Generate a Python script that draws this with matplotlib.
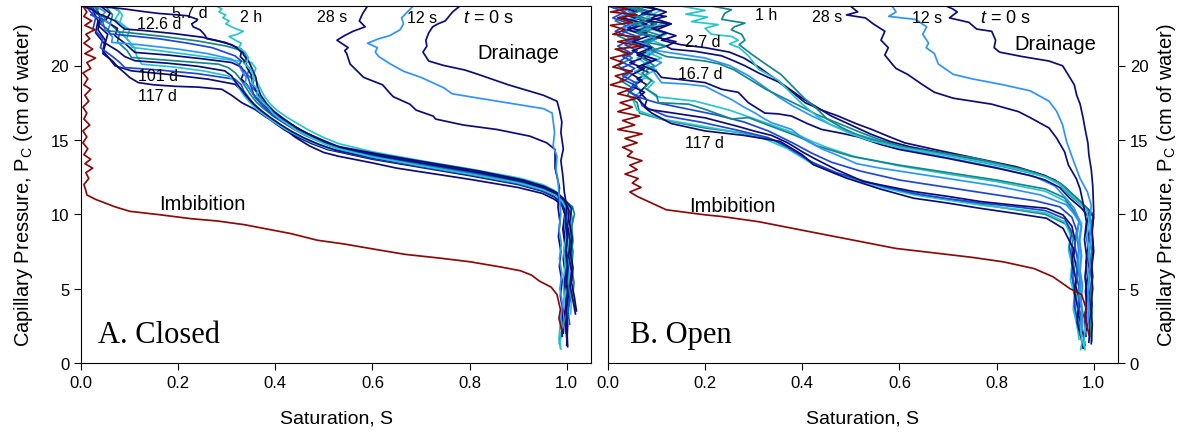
import matplotlib
matplotlib.use('Agg')
import matplotlib.pyplot as plt

plt.rcParams['font.family'] = ['Liberation Sans', 'DejaVu Sans']
plt.rcParams['mathtext.fontset'] = 'custom'
plt.rcParams['mathtext.rm'] = 'Liberation Sans'
plt.rcParams['mathtext.it'] = 'Liberation Sans:italic'
plt.rcParams['mathtext.default'] = 'regular'

NAVY = '#0d0d7a'
BLUE = '#1f48d6'
LBLUE = '#2e93ff'
CYAN = '#28c6cc'
TEAL = '#16878a'
RED = '#8b0b0b'

xticks = [0.0, 0.2, 0.4, 0.6, 0.8, 1.0]
xticklabels = ['0.0', '0.2', '0.4', '0.6', '0.8', '1.0']
yticks = [0, 5, 10, 15, 20]

# ---------------- A. Closed : (S, Pc) pairs ----------------
a_imb = [(0.004,24.0),(0.012,23.6),(0.006,23.3),(0.022,23.0),(0.008,22.7),(0.028,22.4),(0.01,22.1),
         (0.018,21.8),(0.006,21.5),(0.024,21.1),(0.008,20.8),(0.03,20.5),(0.012,20.2),(0.02,19.8),
         (0.004,19.5),(0.014,19.1),(0.006,18.7),(0.02,18.4),(0.008,18.0),(0.016,17.6),(0.004,17.2),
         (0.012,16.8),(0.006,16.4),(0.018,16.0),(0.004,15.6),(0.012,15.2),(0.004,14.8),(0.014,14.4),
         (0.006,14.0),(0.02,13.7),(0.008,13.4),(0.024,13.1),(0.01,12.8),(0.016,12.4),(0.006,12.0),
         (0.01,11.6),(0.012,11.3),(0.03,11.0),(0.046,10.8),(0.07,10.5),(0.1,10.2),(0.164,9.96),
         (0.227,9.7),(0.28,9.55),(0.336,9.3),(0.432,8.7),(0.487,8.25),(0.542,8.0),(0.604,7.65),
         (0.668,7.3),(0.739,7.05),(0.802,6.8),(0.865,6.45),(0.905,6.2),(0.928,5.9),(0.944,5.5),
         (0.968,5.1),(0.98,4.6),(0.987,3.6),(0.984,3.0),(0.99,2.2)]

a_t0 = [(0.78,24.0),(0.765,23.6),(0.75,23.0),(0.735,22.8),(0.724,22.6),(0.716,22.2),(0.71,21.7),
        (0.712,21.3),(0.704,20.9),(0.716,20.3),(0.747,20.0),(0.79,19.7),(0.818,19.4),(0.88,18.7),
        (0.952,18.0),(0.98,17.6),(0.985,17.0),(0.99,16.2),(0.988,15.5),(0.993,14.4),(0.988,13.6),
        (0.992,12.6),(0.995,11.5),(1.0,10.5),(0.997,9.5),(1.001,8.5),(0.998,7.5),(1.002,6.5),
        (0.999,5.5),(1.003,4.5),(0.999,3.5),(1.002,2.5),(1.0,1.2)]
a_12s = [(0.684,24.0),(0.672,23.6),(0.66,23.2),(0.664,22.8),(0.657,22.4),(0.635,22.0),(0.613,21.8),
         (0.59,21.5),(0.61,21.2),(0.606,20.9),(0.613,20.6),(0.637,20.1),(0.665,19.6),(0.70,19.2),
         (0.747,18.5),(0.764,18.1),(0.81,17.85),(0.857,17.6),(0.952,17.1),(0.97,16.8),(0.975,15.5),
         (0.972,14.6),(0.98,13.9),(0.978,13.0),(0.982,12.3),(0.985,11.0),(0.988,10.0),(0.984,9.0),
         (0.989,8.0),(0.985,7.0),(0.99,6.0),(0.986,5.0),(0.991,4.0),(0.988,3.0),(0.99,2.4)]
a_28s = [(0.59,24.0),(0.58,23.5),(0.573,23.0),(0.585,22.6),(0.56,22.3),(0.542,22.0),(0.527,21.7),
         (0.55,21.2),(0.543,21.0),(0.547,20.8),(0.554,20.1),(0.582,19.2),(0.621,18.7),(0.637,18.1),
         (0.643,17.9),(0.677,17.4),(0.69,17.0),(0.725,16.6),(0.73,16.4),(0.787,16.0),(0.856,15.7),
         (0.924,15.25),(0.959,14.8),(0.976,14.35),(0.976,13.1),(0.985,11.8),(0.982,10.5),(0.986,9.5),
         (0.983,8.5),(0.988,7.5),(0.985,6.5),(0.99,5.5),(0.987,4.5),(0.992,3.5),(0.989,2.5),(0.991,1.8)]

a_2h = [(0.279,24.0),(0.29,23.8),(0.284,23.6),(0.298,23.4),(0.292,23.2),(0.305,23.0),(0.298,22.8),
        (0.31,22.6),(0.32,22.45),(0.334,22.3),(0.322,22.1),(0.305,21.95),(0.318,21.7),(0.33,21.5),
        (0.325,21.2),(0.338,20.9),(0.345,20.5),(0.338,20.1),(0.35,19.7),(0.356,19.2),(0.352,18.8),
        (0.364,18.4),(0.362,18.0),(0.372,17.6),(0.385,17.2),(0.395,16.8),(0.41,16.4),(0.428,16.0),
        (0.445,15.6),(0.47,15.2),(0.50,14.75),(0.53,14.4),(0.6,13.85),(0.7,13.25),(0.8,12.7),
        (0.9,12.1),(0.95,11.65),(0.975,11.3),(0.99,10.9),(1.0,10.3),(0.996,9.5),(0.999,8.5),
        (0.994,7.5),(0.997,6.5),(0.992,5.5),(0.995,4.5),(0.99,3.5),(0.992,2.5),(0.986,1.4),(0.988,0.95)]
a_5_7d = [(0.03,24.0),(0.06,23.9),(0.09,23.8),(0.112,23.7),(0.135,23.6),(0.16,23.5),(0.18,23.45),
          (0.2,23.4),(0.218,23.35),(0.24,23.1),(0.238,23.0),(0.228,22.8),(0.231,22.6),(0.245,22.4),
          (0.251,22.2),(0.256,22.0),(0.259,21.8),(0.275,21.7),(0.293,21.55),(0.31,21.4),(0.32,21.2),
          (0.33,20.9),(0.328,20.6),(0.34,20.2),(0.341,19.9),(0.35,19.4),(0.354,18.7),(0.362,18.2),
          (0.366,17.8),(0.38,17.3),(0.392,16.9),(0.41,16.5),(0.43,16.1),(0.45,15.7),(0.48,15.2),
          (0.51,14.75),(0.54,14.45),(0.62,13.9),(0.72,13.35),(0.82,12.8),(0.91,12.2),(0.955,11.75),
          (0.98,11.35),(0.995,10.9),(1.005,10.2),(1.002,9.2),(1.007,8.2),(1.004,7.2),(1.01,6.2),
          (1.007,5.2),(1.013,4.2),(1.018,3.3)]
a_12_6d = [(0.0,24.0),(0.02,23.8),(0.035,23.5),(0.05,23.3),(0.07,23.0),(0.08,22.7),(0.09,22.45),
           (0.13,22.35),(0.19,22.15),(0.25,21.9),(0.297,21.55),(0.315,21.3),(0.33,21.1),(0.335,20.7),
           (0.345,20.3),(0.352,19.8),(0.36,19.2),(0.363,18.6),(0.37,18.0),(0.383,17.4),(0.398,16.9),
           (0.418,16.4),(0.44,15.9),(0.465,15.45),(0.5,14.95),(0.53,14.55),(0.62,14.0),(0.72,13.45),
           (0.82,12.9),(0.91,12.3),(0.955,11.85),(0.98,11.45),(0.995,11.0),(1.01,10.4),(1.006,9.4),
           (1.011,8.4),(1.008,7.4),(1.013,6.4),(1.01,5.4),(1.016,4.4),(1.02,3.5)]
a_c4 = [(0.01,24.0),(0.03,23.7),(0.02,23.4),(0.045,23.1),(0.04,22.8),(0.056,22.4),(0.06,22.12),
        (0.1,22.0),(0.16,21.8),(0.22,21.5),(0.27,21.2),(0.317,20.65),(0.33,20.3),(0.325,20.0),
        (0.338,19.6),(0.345,19.1),(0.35,18.6),(0.355,18.1),(0.366,17.6),(0.38,17.1),(0.396,16.6),
        (0.415,16.2),(0.437,15.75),(0.462,15.3),(0.495,14.85),(0.525,14.45),(0.6,13.95),(0.7,13.4),
        (0.8,12.85),(0.9,12.25),(0.95,11.8),(0.975,11.4),(0.99,10.95),(1.0,10.3),(0.997,9.3),
        (1.001,8.3),(0.998,7.3),(1.003,6.3),(1.0,5.3),(1.006,4.3),(1.003,3.4),(1.006,2.6)]
a_c5 = [(0.02,24.0),(0.035,23.8),(0.03,23.5),(0.05,23.2),(0.045,22.9),(0.05,22.34),(0.1,22.2),
        (0.17,21.95),(0.24,21.65),(0.3,21.3),(0.331,21.0),(0.342,20.6),(0.335,20.2),(0.348,19.8),
        (0.342,19.4),(0.356,19.0),(0.35,18.6),(0.362,18.2),(0.372,17.7),(0.385,17.25),(0.4,16.8),
        (0.42,16.35),(0.44,15.9),(0.462,15.45),(0.49,15.0),(0.52,14.6),(0.6,14.05),(0.7,13.5),
        (0.8,12.95),(0.9,12.35),(0.95,11.9),(0.975,11.5),(0.992,11.05),(1.012,10.5),(1.016,10.0),
        (1.01,9.2),(1.013,8.2),(1.008,7.2),(1.011,6.2),(1.005,5.2),(1.007,4.2),(0.998,3.2),
        (0.99,2.2),(0.985,1.3)]
a_c6 = [(0.03,24.0),(0.05,23.6),(0.04,23.2),(0.06,22.8),(0.055,22.3),(0.065,21.9),(0.063,21.55),
        (0.12,21.4),(0.2,21.1),(0.26,20.8),(0.31,20.43),(0.325,20.1),(0.33,19.7),(0.34,19.2),
        (0.338,18.8),(0.348,18.4),(0.358,17.9),(0.372,17.4),(0.39,16.9),(0.41,16.45),(0.432,16.0),
        (0.455,15.55),(0.485,15.05),(0.515,14.6),(0.6,14.0),(0.7,13.45),(0.8,12.9),(0.9,12.3),
        (0.95,11.85),(0.975,11.45),(0.99,11.0),(1.0,10.4),(0.996,9.4),(1.0,8.4),(0.997,7.4),
        (1.002,6.4),(0.999,5.4),(1.004,4.4),(1.0,3.1)]
a_c7 = [(0.06,24.0),(0.08,23.6),(0.07,23.1),(0.09,22.6),(0.085,22.1),(0.1,21.6),(0.104,21.22),
        (0.16,21.0),(0.23,20.7),(0.3,20.4),(0.351,20.2),(0.36,19.8),(0.355,19.4),(0.362,18.9),
        (0.37,18.4),(0.378,17.9),(0.39,17.4),(0.405,16.95),(0.425,16.5),(0.448,16.05),(0.472,15.6),
        (0.5,15.15),(0.53,14.75),(0.6,14.2),(0.7,13.6),(0.8,13.05),(0.9,12.45),(0.95,12.0),
        (0.975,11.6),(0.99,11.15),(1.006,10.6),(1.01,9.8),(1.005,8.8),(1.008,7.8),(1.002,6.8),
        (1.005,5.8),(0.998,4.8),(0.992,3.6),(0.986,2.4),(0.984,1.6),(0.987,1.0)]
a_c8 = [(0.04,24.0),(0.06,23.5),(0.05,23.0),(0.075,22.5),(0.07,22.0),(0.09,21.5),(0.111,20.88),
        (0.18,20.7),(0.25,20.45),(0.31,20.2),(0.33,19.9),(0.335,19.5),(0.33,19.1),(0.342,18.7),
        (0.35,18.3),(0.36,17.8),(0.375,17.3),(0.39,16.85),(0.41,16.4),(0.432,15.95),(0.456,15.5),
        (0.485,15.05),(0.515,14.6),(0.6,14.05),(0.7,13.5),(0.8,12.95),(0.9,12.35),(0.95,11.9),
        (0.975,11.5),(0.99,11.05),(1.002,10.5),(0.998,9.6),(1.002,8.6),(0.999,7.6),(1.003,6.6),
        (1.0,5.6),(1.004,4.6),(1.001,3.6),(1.0,2.5),(1.002,1.1)]
a_c9 = [(0.05,24.0),(0.065,23.4),(0.06,22.8),(0.08,22.2),(0.075,21.6),(0.095,21.0),(0.104,20.54),
        (0.16,20.4),(0.22,20.25),(0.283,20.09),(0.303,19.86),(0.318,19.5),(0.33,19.0),(0.34,18.5),
        (0.35,18.0),(0.362,17.5),(0.378,17.05),(0.396,16.6),(0.418,16.15),(0.44,15.7),(0.468,15.25),
        (0.5,14.8),(0.535,14.35),(0.6,13.85),(0.7,13.3),(0.8,12.75),(0.9,12.15),(0.95,11.7),
        (0.975,11.3),(0.99,10.85),(1.008,10.3),(1.012,9.5),(1.008,8.5),(1.013,7.5),(1.01,6.4),
        (1.015,5.4),(1.012,4.4),(1.018,3.6)]
a_c10 = [(0.02,24.0),(0.04,23.3),(0.035,22.7),(0.055,22.1),(0.05,21.5),(0.075,21.0),(0.09,20.6),
         (0.111,20.32),(0.18,20.15),(0.24,19.95),(0.296,19.64),(0.31,19.3),(0.318,18.9),(0.33,18.4),
         (0.342,17.9),(0.356,17.4),(0.372,16.95),(0.39,16.5),(0.41,16.05),(0.432,15.6),(0.458,15.15),
         (0.49,14.7),(0.525,14.3),(0.6,13.8),(0.7,13.25),(0.8,12.7),(0.9,12.1),(0.95,11.65),
         (0.975,11.25),(0.99,10.8),(0.998,10.2),(0.994,9.2),(0.998,8.2),(0.995,7.2),(0.999,6.2),
         (0.996,5.2),(1.0,4.2),(0.997,3.2),(0.999,2.0)]
a_c11 = [(0.07,24.0),(0.085,23.4),(0.08,22.9),(0.1,22.4),(0.094,21.8),(0.11,21.2),(0.115,20.6),
         (0.125,20.09),(0.19,19.9),(0.25,19.65),(0.303,19.3),(0.318,18.9),(0.325,18.5),(0.335,18.0),
         (0.348,17.5),(0.362,17.05),(0.38,16.6),(0.4,16.15),(0.422,15.7),(0.448,15.25),(0.478,14.8),
         (0.51,14.4),(0.6,13.9),(0.7,13.35),(0.8,12.8),(0.9,12.2),(0.95,11.75),(0.975,11.35),
         (0.99,10.9),(1.004,10.3),(1.0,9.3),(1.005,8.3),(1.002,7.3),(1.007,6.3),(1.004,5.3),
         (1.01,4.3),(1.008,3.3)]
a_c12 = [(0.01,24.0),(0.03,23.2),(0.025,22.5),(0.045,21.8),(0.04,21.2),(0.065,20.6),(0.08,20.2),
         (0.09,19.86),(0.16,19.7),(0.24,19.45),(0.317,19.08),(0.33,18.7),(0.335,18.3),(0.345,17.85),
         (0.356,17.4),(0.37,16.95),(0.386,16.5),(0.405,16.05),(0.428,15.6),(0.454,15.15),(0.485,14.7),
         (0.52,14.3),(0.6,13.75),(0.7,13.2),(0.8,12.65),(0.9,12.05),(0.95,11.6),(0.975,11.2),
         (0.99,10.75),(1.0,10.1),(0.996,9.1),(1.0,8.1),(0.997,7.1),(1.002,6.1),(0.999,5.1),
         (1.004,4.1),(1.001,3.2)]
a_101d = [(0.03,24.0),(0.04,23.2),(0.035,22.4),(0.05,21.7),(0.045,21.0),(0.06,20.4),(0.07,19.98),
          (0.104,19.64),(0.18,19.4),(0.262,19.08),(0.317,18.74),(0.33,18.35),(0.34,17.9),(0.352,17.45),
          (0.366,17.0),(0.382,16.55),(0.4,16.1),(0.42,15.65),(0.445,15.2),(0.475,14.75),(0.508,14.35),
          (0.6,13.7),(0.7,13.15),(0.8,12.6),(0.9,12.0),(0.95,11.55),(0.975,11.15),(0.99,10.7),
          (0.996,10.0),(0.992,9.0),(0.996,8.0),(0.993,7.0),(0.997,6.0),(0.994,5.0),(0.998,4.0),
          (0.995,3.0),(0.993,2.0)]
a_117d = [(0.02,24.0),(0.035,23.0),(0.03,22.2),(0.05,21.4),(0.045,20.8),(0.065,20.3),(0.077,19.86),
          (0.09,19.5),(0.1,19.2),(0.118,18.85),(0.15,18.7),(0.194,18.6),(0.24,18.55),(0.29,18.4),
          (0.31,18.0),(0.331,17.5),(0.358,17.05),(0.38,16.55),(0.41,16.0),(0.44,15.2),(0.47,14.6),
          (0.5,14.15),(0.53,13.9),(0.6,13.45),(0.65,13.1),(0.7,12.85),(0.8,12.35),(0.9,11.8),
          (0.95,11.4),(0.975,11.0),(0.99,10.6),(0.998,9.9),(0.994,8.9),(0.998,7.9),(0.995,6.9),
          (0.999,5.9),(0.996,4.9),(1.0,3.9),(0.998,2.6),(1.001,1.2)]

# ---------------- B. Open ----------------
b_imb = [(0.01,24.0),(0.04,23.8),(0.005,23.6),(0.06,23.4),(0.02,23.2),(0.05,22.9),(0.005,22.7),
         (0.035,22.4),(0.01,22.1),(0.065,21.9),(0.02,21.6),(0.07,21.3),(0.015,21.1),(0.045,20.8),
         (0.005,20.5),(0.03,20.2),(0.01,19.9),(0.05,19.6),(0.015,19.3),(0.035,19.0),(0.005,18.7),
         (0.045,18.4),(0.02,18.1),(0.06,17.8),(0.025,17.5),(0.05,17.2),(0.02,16.9),(0.065,16.6),
         (0.03,16.3),(0.055,16.0),(0.02,15.7),(0.07,15.4),(0.035,15.1),(0.06,14.8),(0.03,14.5),
         (0.05,14.2),(0.04,13.9),(0.07,13.6),(0.045,13.3),(0.06,13.0),(0.035,12.7),(0.062,12.4),
         (0.05,12.1),(0.068,11.8),(0.045,11.5),(0.06,11.2),(0.08,10.9),(0.1,10.6),(0.12,10.3),
         (0.2,9.96),(0.234,9.85),(0.31,9.5),(0.404,8.9),(0.467,8.5),(0.53,8.1),(0.593,7.7),
         (0.672,7.4),(0.75,7.1),(0.814,6.8),(0.877,6.35),(0.916,5.8),(0.951,5.0),(0.975,4.6),
         (0.985,3.6),(0.98,3.2),(0.986,2.6),(0.99,1.9)]

b_t0 = [(0.696,24.0),(0.71,23.8),(0.719,23.6),(0.703,23.2),(0.743,22.9),(0.759,22.45),(0.79,22.3),
        (0.798,21.7),(0.795,21.2),(0.806,20.9),(0.853,20.6),(0.908,20.3),(0.936,19.98),(0.947,19.4),
        (0.96,18.7),(0.965,18.0),(0.972,17.4),(0.978,16.5),(0.983,15.6),(0.988,14.8),(0.99,14.0),
        (0.995,13.0),(0.998,11.9),(1.0,10.2),(0.997,8.8),(1.0,7.5),(0.995,6.2),(0.998,5.0),
        (0.994,3.8),(0.997,2.6),(0.995,1.3)]
b_12s = [(0.585,24.0),(0.593,23.6),(0.578,23.3),(0.633,23.1),(0.656,22.6),(0.648,22.1),(0.66,21.5),
         (0.655,21.2),(0.672,20.8),(0.68,20.1),(0.711,19.4),(0.75,19.1),(0.814,18.7),(0.869,18.3),
         (0.908,17.6),(0.924,16.9),(0.936,16.0),(0.944,14.9),(0.956,13.8),(0.972,12.4),(0.987,11.5),
         (0.995,10.6),(0.992,9.6),(0.995,8.4),(0.99,7.2),(0.993,6.0),(0.988,4.8),(0.991,3.6),(0.987,2.4)]
b_28s = [(0.499,24.0),(0.514,23.6),(0.491,23.4),(0.53,23.2),(0.546,22.8),(0.57,22.3),(0.562,21.7),
         (0.577,21.2),(0.57,20.7),(0.585,20.1),(0.593,19.8),(0.617,19.4),(0.648,18.7),(0.672,18.2),
         (0.711,17.8),(0.79,17.4),(0.845,16.9),(0.869,16.5),(0.908,15.8),(0.924,15.1),(0.94,14.2),
         (0.948,13.3),(0.964,12.4),(0.972,11.7),(0.979,10.6),(0.985,9.5),(0.981,8.3),(0.986,7.0),
         (0.982,5.8),(0.986,4.6),(0.983,3.4),(0.986,2.2)]

b_1h_a = [(0.15,24.0),(0.2,23.7),(0.16,23.45),(0.205,23.25),(0.172,22.95),(0.227,22.75),(0.2,22.5),
          (0.213,22.1),(0.255,21.95),(0.268,21.7),(0.25,21.45),(0.27,21.2),(0.289,20.65),(0.31,19.75),
          (0.351,19.0),(0.375,18.2),(0.4,17.4),(0.43,16.6),(0.46,16.0),(0.5,15.4),(0.54,14.95),
          (0.6,14.5),(0.68,14.05),(0.76,13.6),(0.84,13.05),(0.9,12.5),(0.93,12.0),(0.95,11.4),
          (0.97,10.8),(0.985,10.3),(0.99,9.6),(0.986,8.6),(0.99,7.6),(0.986,6.6),(0.99,5.6),
          (0.986,4.6),(0.989,3.6),(0.984,2.6),(0.98,1.6),(0.982,0.9)]
b_1h_b = [(0.213,24.0),(0.254,23.75),(0.24,23.5),(0.234,23.1),(0.282,22.85),(0.26,22.6),(0.254,22.4),
          (0.275,22.1),(0.282,21.7),(0.27,21.4),(0.294,20.8),(0.32,20.2),(0.356,19.4),(0.38,18.6),
          (0.404,17.8),(0.43,17.1),(0.451,16.4),(0.48,15.85),(0.515,15.3),(0.55,14.95),(0.593,14.6),
          (0.67,14.2),(0.75,13.8),(0.81,13.35),(0.869,12.9),(0.908,12.45),(0.935,12.0),(0.955,11.4),
          (0.975,10.8),(0.99,10.2),(0.995,9.5),(0.991,8.5),(0.996,7.5),(0.992,6.5),(0.997,5.5),
          (0.993,4.5),(0.997,3.5),(0.993,2.5),(0.996,1.5)]
b_2_7d = [(0.06,24.0),(0.1,23.8),(0.07,23.5),(0.12,23.3),(0.08,23.0),(0.13,22.8),(0.09,22.5),
          (0.12,22.2),(0.1,21.9),(0.14,21.6),(0.12,21.3),(0.131,21.1),(0.18,20.95),(0.234,20.65),
          (0.26,20.3),(0.282,19.98),(0.31,19.5),(0.33,19.2),(0.351,18.9),(0.38,18.2),(0.406,17.5),
          (0.44,17.0),(0.474,16.6),(0.51,16.1),(0.543,15.7),(0.58,15.2),(0.611,14.8),(0.68,14.3),
          (0.76,13.75),(0.84,13.2),(0.9,12.6),(0.93,12.1),(0.95,11.5),(0.97,10.9),(0.99,10.3),
          (0.986,9.3),(0.99,8.3),(0.987,7.3),(0.991,6.3),(0.988,5.3),(0.992,4.3),(0.989,3.3),
          (0.992,2.3),(0.99,1.4)]
b_c4 = [(0.03,24.0),(0.07,23.7),(0.04,23.4),(0.09,23.1),(0.05,22.8),(0.1,22.5),(0.06,22.2),
        (0.11,21.9),(0.075,21.6),(0.12,21.3),(0.09,21.0),(0.12,20.6),(0.16,20.45),(0.2,20.3),
        (0.23,20.1),(0.26,19.7),(0.28,19.3),(0.3,18.9),(0.325,18.4),(0.35,18.0),(0.375,17.6),
        (0.4,17.2),(0.43,16.7),(0.46,16.3),(0.49,15.9),(0.52,15.5),(0.56,15.0),(0.6,14.6),
        (0.7,13.95),(0.8,13.3),(0.9,12.55),(0.93,12.0),(0.95,11.3),(0.975,10.6),(1.0,10.0),
        (0.995,9.0),(0.998,8.0),(0.994,7.0),(0.997,6.0),(0.993,5.0),(0.996,4.0),(0.991,3.0),(0.993,2.0)]
b_16_7d = [(0.02,24.0),(0.06,23.6),(0.03,23.2),(0.08,22.8),(0.04,22.4),(0.085,22.0),(0.05,21.6),
           (0.09,21.2),(0.06,20.8),(0.1,20.4),(0.07,20.0),(0.1,19.6),(0.11,19.2),(0.15,19.05),
           (0.2,18.85),(0.234,18.4),(0.268,18.2),(0.289,17.5),(0.323,16.8),(0.35,16.75),(0.378,16.6),
           (0.41,16.1),(0.44,15.7),(0.48,15.45),(0.515,15.2),(0.56,14.7),(0.6,14.35),(0.7,13.75),
           (0.8,13.1),(0.87,12.6),(0.9,12.3),(0.93,11.8),(0.95,11.1),(0.975,10.4),(0.99,9.8),
           (0.985,8.8),(0.988,7.8),(0.984,6.8),(0.987,5.8),(0.983,4.8),(0.986,3.8),(0.982,2.8),(0.984,1.8)]
b_c6 = [(0.04,24.0),(0.08,23.5),(0.05,23.0),(0.09,22.6),(0.06,22.2),(0.1,21.8),(0.07,21.4),
        (0.1,21.0),(0.08,20.6),(0.11,20.2),(0.09,19.8),(0.1,19.3),(0.11,18.85),(0.16,18.75),
        (0.2,18.6),(0.23,18.1),(0.255,17.7),(0.28,17.2),(0.303,16.8),(0.32,16.45),(0.337,16.15),
        (0.36,15.9),(0.378,15.7),(0.406,15.0),(0.44,14.4),(0.47,14.0),(0.512,13.4),(0.56,13.1),
        (0.6,12.9),(0.7,12.4),(0.8,11.9),(0.89,11.3),(0.944,10.63),(0.96,10.0),(0.975,9.2),
        (0.971,8.2),(0.975,7.2),(0.972,6.2),(0.977,5.2),(0.974,4.2),(0.978,3.2),(0.976,2.2)]
b_c7 = [(0.01,24.0),(0.05,23.6),(0.02,23.2),(0.06,22.9),(0.03,22.5),(0.07,22.1),(0.04,21.8),
        (0.08,21.4),(0.1,21.0),(0.14,20.8),(0.2,20.5),(0.25,20.0),(0.29,19.3),(0.32,18.6),
        (0.35,17.9),(0.38,17.3),(0.42,16.6),(0.46,16.0),(0.5,15.5),(0.55,15.0),(0.6,14.45),
        (0.7,13.8),(0.8,13.15),(0.88,12.5),(0.92,11.9),(0.945,11.0),(0.96,10.4),(0.97,9.6),
        (0.966,8.6),(0.97,7.6),(0.968,6.6),(0.973,5.6),(0.971,4.6),(0.976,3.6),(0.974,2.6)]
b_c8 = [(0.05,24.0),(0.09,23.6),(0.06,23.2),(0.1,22.8),(0.07,22.4),(0.11,22.0),(0.08,21.5),
        (0.1,21.0),(0.07,20.5),(0.095,20.0),(0.07,19.5),(0.09,19.0),(0.075,18.5),(0.1,18.0),
        (0.104,17.5),(0.135,17.45),(0.166,17.4),(0.2,17.05),(0.255,16.4),(0.289,16.5),(0.337,15.9),
        (0.378,15.4),(0.41,14.95),(0.43,14.6),(0.47,14.2),(0.5,13.9),(0.6,13.3),(0.7,12.8),
        (0.8,12.3),(0.9,11.7),(0.94,11.1),(0.955,10.4),(0.97,9.6),(0.965,8.6),(0.969,7.6),
        (0.966,6.6),(0.971,5.6),(0.969,4.6),(0.975,3.6),(0.972,2.6)]
b_c9 = [(0.07,24.0),(0.11,23.7),(0.08,23.3),(0.12,22.9),(0.085,22.5),(0.12,22.1),(0.09,21.7),
        (0.12,21.3),(0.08,20.9),(0.11,20.5),(0.075,20.1),(0.1,19.7),(0.07,19.3),(0.095,18.9),
        (0.08,18.4),(0.1,17.9),(0.14,17.75),(0.18,17.6),(0.25,17.0),(0.32,16.2),(0.38,15.5),
        (0.42,14.9),(0.45,14.5),(0.51,13.85),(0.6,13.25),(0.7,12.7),(0.8,12.2),(0.9,11.55),
        (0.94,10.9),(0.96,10.2),(0.975,9.4),(0.97,8.4),(0.974,7.4),(0.971,6.4),(0.975,5.4),
        (0.972,4.4),(0.977,3.4),(0.973,2.4),(0.976,1.4),(0.973,0.9)]
b_c10 = [(0.03,24.0),(0.065,23.7),(0.035,23.4),(0.075,23.0),(0.04,22.6),(0.08,22.2),(0.045,21.8),
         (0.085,21.4),(0.05,21.0),(0.08,20.6),(0.045,20.2),(0.075,19.8),(0.05,19.4),(0.07,19.0),
         (0.05,18.6),(0.075,18.2),(0.06,17.8),(0.083,17.05),(0.131,16.82),(0.2,16.48),(0.268,15.9),
         (0.3,15.6),(0.337,15.3),(0.37,14.8),(0.4,14.2),(0.423,13.78),(0.47,13.0),(0.526,12.2),
         (0.58,11.85),(0.629,11.53),(0.7,11.2),(0.766,10.86),(0.84,10.6),(0.903,10.4),(0.937,9.95),
         (0.955,9.2),(0.962,8.2),(0.959,7.2),(0.966,6.2),(0.963,5.2),(0.971,4.2),(0.969,3.2),
         (0.977,2.2),(0.982,1.2)]
b_c11 = [(0.02,24.0),(0.05,23.6),(0.025,23.2),(0.06,22.7),(0.03,22.3),(0.065,21.9),(0.035,21.4),
         (0.06,21.0),(0.03,20.6),(0.055,20.2),(0.025,19.8),(0.05,19.4),(0.035,19.0),(0.06,18.6),
         (0.045,18.2),(0.065,17.8),(0.07,17.3),(0.12,16.6),(0.19,16.2),(0.26,15.7),(0.33,15.15),
         (0.36,14.7),(0.38,14.3),(0.42,13.5),(0.47,12.8),(0.52,12.3),(0.57,11.85),(0.63,11.4),
         (0.7,11.05),(0.77,10.75),(0.84,10.5),(0.9,10.25),(0.94,9.7),(0.955,8.8),(0.95,7.8),
         (0.957,6.8),(0.955,5.8),(0.962,4.8),(0.96,3.8),(0.968,2.8),(0.975,1.8)]
b_c12 = [(0.04,24.0),(0.075,23.5),(0.045,23.1),(0.085,22.7),(0.05,22.3),(0.09,21.9),(0.055,21.4),
         (0.09,21.0),(0.06,20.5),(0.085,20.0),(0.055,19.6),(0.08,19.2),(0.05,18.8),(0.07,18.3),
         (0.05,17.8),(0.06,17.0),(0.11,16.4),(0.18,16.0),(0.25,15.6),(0.32,15.1),(0.37,14.4),
         (0.42,13.4),(0.47,12.7),(0.52,12.2),(0.57,11.75),(0.63,11.3),(0.7,10.95),(0.77,10.6),
         (0.84,10.35),(0.9,10.1),(0.94,9.5),(0.952,8.6),(0.948,7.6),(0.955,6.6),(0.952,5.6),
         (0.96,4.6),(0.958,3.6),(0.965,2.6),(0.97,1.6)]
b_c13 = [(0.01,24.0),(0.04,23.5),(0.015,23.0),(0.05,22.5),(0.02,22.0),(0.055,21.5),(0.025,21.0),
         (0.05,20.5),(0.02,20.0),(0.045,19.5),(0.025,19.0),(0.05,18.5),(0.04,18.0),(0.06,17.5),
         (0.065,16.8),(0.12,16.3),(0.2,15.8),(0.27,15.5),(0.34,15.0),(0.39,14.1),(0.43,13.3),
         (0.49,12.5),(0.56,11.9),(0.66,11.2),(0.78,10.6),(0.9,10.0),(0.945,9.3),(0.958,8.4),
         (0.953,7.4),(0.96,6.4),(0.957,5.4),(0.965,4.4),(0.962,3.4),(0.97,2.4)]
b_117d = [(0.05,24.0),(0.085,23.6),(0.055,23.2),(0.095,22.8),(0.06,22.3),(0.1,21.9),(0.065,21.5),
          (0.095,21.1),(0.06,20.7),(0.09,20.3),(0.06,19.9),(0.085,19.5),(0.06,19.1),(0.08,18.7),
          (0.065,18.2),(0.08,17.7),(0.075,17.2),(0.09,16.8),(0.13,16.1),(0.2,15.6),(0.28,15.3),
          (0.354,14.9),(0.4,14.0),(0.423,13.33),(0.491,12.43),(0.56,11.7),(0.629,11.08),(0.7,10.75),
          (0.766,10.4),(0.84,10.05),(0.903,9.73),(0.937,9.05),(0.958,7.7),(0.955,6.7),(0.963,5.7),
          (0.96,4.7),(0.968,3.7),(0.966,2.7),(0.974,1.7),(0.978,1.0)]
b_c15 = [(0.0,24.0),(0.035,23.6),(0.01,23.2),(0.045,22.8),(0.015,22.3),(0.05,21.8),(0.02,21.3),
         (0.05,20.8),(0.025,20.3),(0.055,19.8),(0.03,19.3),(0.06,18.8),(0.04,18.3),(0.07,17.8),
         (0.1,17.5),(0.16,17.1),(0.22,16.7),(0.28,16.2),(0.33,15.6),(0.38,14.8),(0.42,14.1),
         (0.46,13.5),(0.52,12.9),(0.6,12.3),(0.7,11.8),(0.8,11.3),(0.88,10.9),(0.93,10.5),
         (0.955,9.8),(0.965,8.9),(0.961,7.9),(0.967,6.9),(0.964,5.9),(0.971,4.9),(0.968,3.9),
         (0.975,2.9),(0.972,1.9)]
b_c16 = [(0.08,24.0),(0.12,23.6),(0.09,23.2),(0.13,22.8),(0.1,22.4),(0.14,22.0),(0.11,21.7),
         (0.15,21.4),(0.2,21.2),(0.25,20.9),(0.28,20.5),(0.31,19.9),(0.34,19.2),(0.37,18.5),
         (0.4,17.8),(0.43,17.2),(0.46,16.6),(0.5,16.0),(0.54,15.4),(0.58,14.9),(0.62,14.55),
         (0.7,14.05),(0.8,13.4),(0.88,12.8),(0.92,12.3),(0.945,11.7),(0.965,11.0),(0.985,10.4),
         (1.0,9.8),(0.996,8.8),(0.999,7.8),(0.995,6.8),(0.998,5.8),(0.994,4.8),(0.997,3.8),
         (0.993,2.8),(0.995,1.8)]

curves_a = [(a_117d, NAVY), (a_101d, NAVY), (a_c12, BLUE), (a_c11, CYAN), (a_c10, NAVY),
            (a_c9, TEAL), (a_c8, NAVY), (a_c7, CYAN), (a_c6, LBLUE), (a_c5, TEAL), (a_c4, BLUE),
            (a_12_6d, NAVY), (a_5_7d, NAVY), (a_2h, CYAN),
            (a_28s, NAVY), (a_12s, LBLUE), (a_t0, NAVY), (a_imb, RED)]
curves_b = [(b_c13, TEAL), (b_c12, CYAN), (b_c11, BLUE), (b_c10, NAVY), (b_117d, NAVY),
            (b_c15, BLUE), (b_c9, CYAN), (b_c8, TEAL), (b_c6, LBLUE), (b_c7, LBLUE),
            (b_16_7d, NAVY), (b_c4, TEAL), (b_2_7d, NAVY), (b_c16, NAVY), (b_1h_b, TEAL),
            (b_1h_a, CYAN), (b_28s, NAVY), (b_12s, LBLUE), (b_t0, NAVY), (b_imb, RED)]


def draw(ax, curves):
    for pts, col in curves:
        ax.plot([p[0] for p in pts], [p[1] for p in pts], color=col, lw=1.25)
    ax.set_xlim(0, 1.05)
    ax.set_ylim(0, 24)
    ax.set_xticks(xticks)
    ax.set_xticklabels(xticklabels)
    ax.set_yticks(yticks)
    ax.tick_params(direction='out', length=5, labelsize=12)
    ax.set_xlabel('Saturation, S', fontsize=14, labelpad=14)


fig = plt.figure(figsize=(11.9, 4.35), dpi=100)
axA = fig.add_axes([81/1190, 71/435, 510/1190, 357/435])
axB = fig.add_axes([608/1190, 71/435, 510/1190, 357/435])

ylab = 'Capillary Pressure, P$_\\mathregular{C}$ (cm of water)'

draw(axA, curves_a)
axA.set_ylabel(ylab, fontsize=14.5, labelpad=11)

draw(axB, curves_b)
axB.yaxis.tick_right()
axB.yaxis.set_label_position('right')
axB.set_ylabel(ylab, fontsize=14.5, labelpad=5)

# labels panel A
axA.text(0.187, 23.55, '5.7 d', fontsize=11.5, va='center')
axA.text(0.115, 22.8, '12.6 d', fontsize=11.5, va='center')
axA.text(0.327, 23.3, '2 h', fontsize=11.5, va='center')
axA.text(0.485, 23.3, '28 s', fontsize=11.5, va='center')
axA.text(0.672, 23.2, '12 s', fontsize=11.5, va='center')
axA.text(0.787, 23.25, '$\\mathit{t}$ = 0 s', fontsize=13, va='center')
axA.text(0.817, 20.9, 'Drainage', fontsize=14.5, va='center')
axA.text(0.118, 19.3, '101 d', fontsize=11.5, va='center')
axA.text(0.118, 18.0, '117 d', fontsize=11.5, va='center')
axA.text(0.16, 10.75, 'Imbibition', fontsize=14.5, va='center')
axA.text(0.034, 1.9, 'A. Closed', fontsize=22, va='center', family='Liberation Serif')

# labels panel B
axB.text(0.303, 23.4, '1 h', fontsize=11.5, va='center')
axB.text(0.419, 23.3, '28 s', fontsize=11.5, va='center')
axB.text(0.625, 23.2, '12 s', fontsize=11.5, va='center')
axB.text(0.766, 23.25, '$\\mathit{t}$ = 0 s', fontsize=13, va='center')
axB.text(0.837, 21.45, 'Drainage', fontsize=14.5, va='center')
axB.text(0.159, 21.6, '2.7 d', fontsize=11.5, va='center')
axB.text(0.144, 19.45, '16.7 d', fontsize=11.5, va='center')
axB.text(0.159, 14.8, '117 d', fontsize=11.5, va='center')
axB.text(0.168, 10.6, 'Imbibition', fontsize=14.5, va='center')
axB.text(0.045, 1.9, 'B. Open', fontsize=22, va='center', family='Liberation Serif')

fig.savefig('out.png', dpi=100)
